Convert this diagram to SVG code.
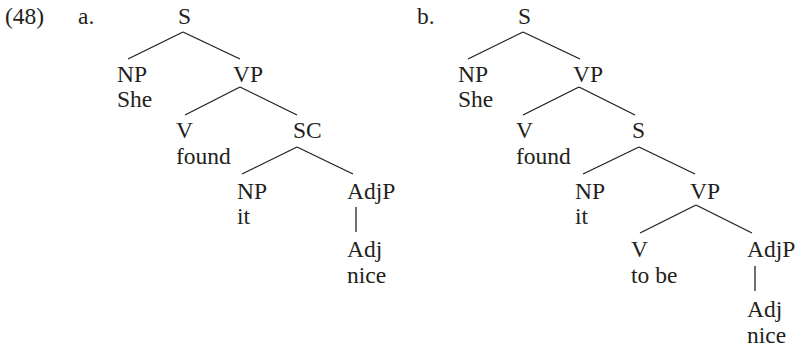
<svg xmlns="http://www.w3.org/2000/svg" width="796" height="355" viewBox="0 0 796 355">
<style>
text{font-family:"Liberation Serif","Times New Roman",serif;font-size:23.5px;fill:#231f20}
line{stroke:#231f20;stroke-width:1.3}
</style>
<rect width="796" height="355" fill="#fff"/>
<g id="labels">
<text x="5" y="24">(48)</text>
<text x="78" y="24">a.</text>
<text x="417" y="24">b.</text>
</g>
<g id="tree-a">
<g id="a-S"><text x="178" y="24">S</text></g>
<g id="a-NP"><text x="117" y="82">NP</text><text x="117" y="107">She</text></g>
<g id="a-VP"><text x="233" y="82">VP</text></g>
<g id="a-V"><text x="176" y="138">V</text><text x="176" y="164">found</text></g>
<g id="a-SC"><text x="293" y="138">SC</text></g>
<g id="a-NP2"><text x="237" y="199">NP</text><text x="237" y="224">it</text></g>
<g id="a-AdjP"><text x="347" y="199">AdjP</text></g>
<g id="a-Adj"><text x="347" y="257">Adj</text><text x="347" y="283">nice</text></g>
</g>
<g id="tree-b">
<g id="b-S"><text x="518" y="24">S</text></g>
<g id="b-NP"><text x="458" y="82">NP</text><text x="458" y="107">She</text></g>
<g id="b-VP"><text x="573" y="82">VP</text></g>
<g id="b-V"><text x="516" y="138">V</text><text x="516" y="164">found</text></g>
<g id="b-S2"><text x="632" y="138">S</text></g>
<g id="b-NP2"><text x="575" y="199">NP</text><text x="575" y="224">it</text></g>
<g id="b-VP2"><text x="690" y="199">VP</text></g>
<g id="b-V2"><text x="631" y="257">V</text><text x="631" y="283">to be</text></g>
<g id="b-AdjP"><text x="747" y="257">AdjP</text></g>
<g id="b-Adj"><text x="747" y="317">Adj</text><text x="747" y="343">nice</text></g>
</g>
<g id="connectors">
<line x1="183" y1="32" x2="128" y2="59"/>
<line x1="183" y1="32" x2="240" y2="59"/>
<line x1="240" y1="87" x2="185" y2="115"/>
<line x1="240" y1="87" x2="297" y2="115"/>
<line x1="297" y1="147" x2="242" y2="174"/>
<line x1="297" y1="147" x2="353" y2="174"/>
<line x1="356" y1="207" x2="356" y2="232"/>
<line x1="523" y1="32" x2="468" y2="59"/>
<line x1="523" y1="32" x2="580" y2="59"/>
<line x1="579" y1="87" x2="523" y2="115"/>
<line x1="579" y1="87" x2="635" y2="115"/>
<line x1="639" y1="147" x2="583" y2="174"/>
<line x1="639" y1="147" x2="695" y2="174"/>
<line x1="696" y1="205" x2="640" y2="233"/>
<line x1="696" y1="205" x2="752" y2="233"/>
<line x1="755" y1="266" x2="755" y2="291"/>
</g>
</svg>
